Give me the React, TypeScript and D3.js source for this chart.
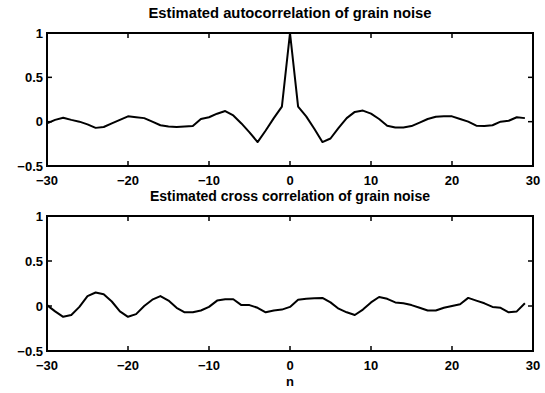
import React from "react";
import * as d3 from "d3";

// Lags n = -30 … 29
const lags: number[] = d3.range(-30, 30);

// Estimated autocorrelation of grain noise
const autoCorr: number[] = [
  -0.02, 0.02, 0.045, 0.02, 0.0, -0.03, -0.07, -0.06, -0.02, 0.02,
  0.06, 0.05, 0.04, 0.0, -0.04, -0.055, -0.06, -0.055, -0.05, 0.03,
  0.05, 0.09, 0.12, 0.07, -0.02, -0.12, -0.23, -0.1, 0.04, 0.17,
  1.0, 0.17, 0.06, -0.08, -0.23, -0.19, -0.07, 0.04, 0.11, 0.125,
  0.09, 0.03, -0.045, -0.065, -0.065, -0.05, -0.01, 0.03, 0.055, 0.06,
  0.06, 0.03, 0.0, -0.045, -0.05, -0.04, 0.0, 0.01, 0.05, 0.04,
];

// Estimated cross correlation of grain noise
const crossCorr: number[] = [
  0.01, -0.06, -0.12, -0.1, -0.01, 0.11, 0.15, 0.13, 0.05, -0.06,
  -0.12, -0.09, 0.0, 0.07, 0.11, 0.06, -0.02, -0.07, -0.07, -0.05,
  -0.01, 0.06, 0.075, 0.075, 0.01, 0.01, -0.02, -0.07, -0.05, -0.04,
  -0.01, 0.07, 0.08, 0.085, 0.09, 0.04, -0.03, -0.07, -0.1, -0.04,
  0.04, 0.1, 0.08, 0.04, 0.03, 0.01, -0.02, -0.05, -0.05, -0.02,
  0.0, 0.02, 0.09, 0.06, 0.03, -0.01, -0.02, -0.07, -0.06, 0.03,
];

const xTicks: number[] = [-30, -20, -10, 0, 10, 20, 30];
const yTicks: number[] = [-0.5, 0, 0.5, 1];
const titles: string[] = [
  "Estimated autocorrelation of grain noise",
  "Estimated cross correlation of grain noise",
];
const xLabel = "n";

const W = 545;
const H = 393;
const FONT = "'Liberation Sans', Arial, Helvetica, sans-serif";

const fmt = (v: number) => {
  const s = String(Math.abs(v));
  return v < 0 ? "\u2212" + s : s;
};

type PanelProps = {
  top: number;
  bottom: number;
  values: number[];
  title: string;
  titleWidth: number;
  showXLabel: boolean;
};

const left = 47;
const right = 533;
const tickLen = 5;

function Panel({ top, bottom, values, title, titleWidth, showXLabel }: PanelProps) {
  const x = d3.scaleLinear().domain([-30, 30]).range([left, right]);
  const y = d3.scaleLinear().domain([-0.5, 1]).range([bottom, top]);
  const line = d3
    .line<number>()
    .x((_, i) => x(lags[i]))
    .y((d) => y(d))
    .curve(d3.curveLinear);

  return (
    <g>
      <text
        x={(left + right) / 2}
        y={top - 15}
        textAnchor="middle"
        fontFamily={FONT}
        fontWeight="bold"
        fontSize={14}
        textLength={titleWidth}
        lengthAdjust="spacingAndGlyphs"
      >
        {title}
      </text>
      <path d={line(values) ?? ""} fill="none" stroke="#000" strokeWidth={2} strokeLinejoin="round" />
      <rect
        x={left}
        y={top}
        width={right - left}
        height={bottom - top}
        fill="none"
        stroke="#000"
        strokeWidth={2}
      />
      {xTicks.map((t) => (
        <g key={"x" + t}>
          <line x1={x(t)} x2={x(t)} y1={bottom} y2={bottom - tickLen} stroke="#000" strokeWidth={1.5} />
          <line x1={x(t)} x2={x(t)} y1={top} y2={top + tickLen} stroke="#000" strokeWidth={1.5} />
          <text
            x={x(t)}
            y={bottom + 19}
            textAnchor="middle"
            fontFamily={FONT}
            fontWeight="bold"
            fontSize={13}
          >
            {fmt(t)}
          </text>
        </g>
      ))}
      {yTicks.map((t) => (
        <g key={"y" + t}>
          <line x1={left} x2={left + tickLen} y1={y(t)} y2={y(t)} stroke="#000" strokeWidth={1.5} />
          <line x1={right} x2={right - tickLen} y1={y(t)} y2={y(t)} stroke="#000" strokeWidth={1.5} />
          <text
            x={left - 4}
            y={y(t)}
            dy="0.36em"
            textAnchor="end"
            fontFamily={FONT}
            fontWeight="bold"
            fontSize={13}
          >
            {fmt(t)}
          </text>
        </g>
      ))}
      {showXLabel && (
        <text
          x={(left + right) / 2}
          y={bottom + 35}
          textAnchor="middle"
          fontFamily={FONT}
          fontWeight="bold"
          fontSize={13}
        >
          {xLabel}
        </text>
      )}
    </g>
  );
}

export default function App() {
  return (
    <svg
      width={W}
      height={H}
      viewBox={`0 0 ${W} ${H}`}
      style={{ position: "absolute", left: 0, top: 0, background: "#fff" }}
    >
      <rect width={W} height={H} fill="#fff" />
      <Panel top={33} bottom={166} values={autoCorr} title={titles[0]} titleWidth={283} showXLabel={false} />
      <Panel top={216} bottom={351} values={crossCorr} title={titles[1]} titleWidth={280} showXLabel={true} />
    </svg>
  );
}
